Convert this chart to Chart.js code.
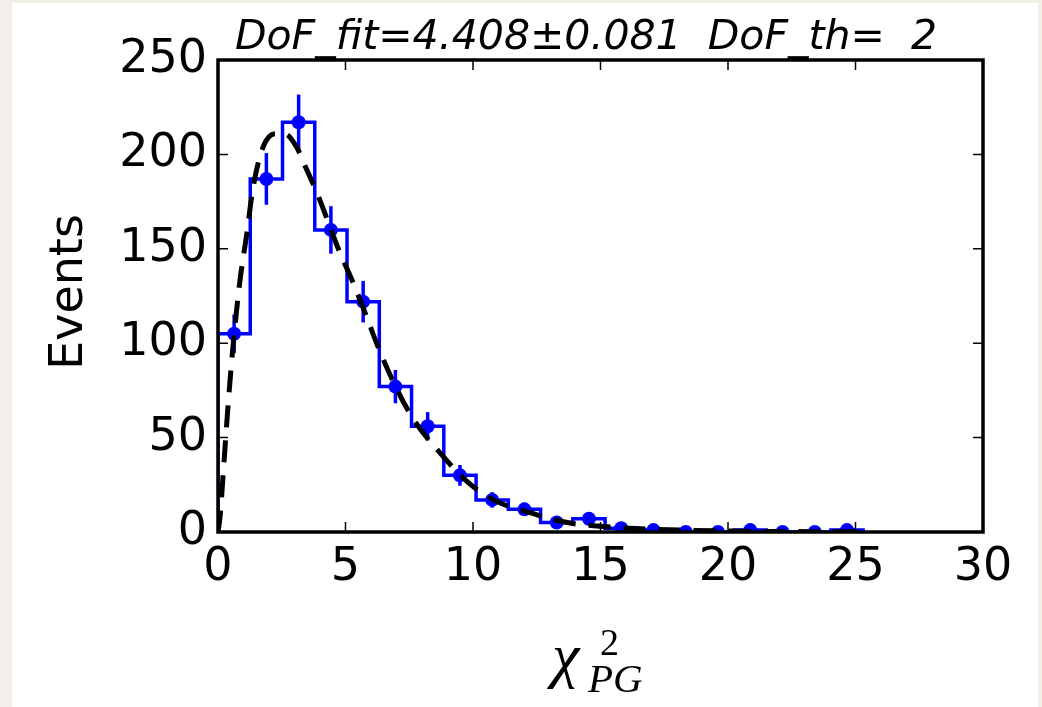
<!DOCTYPE html>
<html>
<head>
<meta charset="utf-8">
<script src="https://cdn.jsdelivr.net/npm/chart.js@4.4.1/dist/chart.umd.min.js"></script>
<style>
  html, body { margin: 0; padding: 0; }
  body { width: 1042px; height: 707px; background: #f2efe9; position: relative; overflow: hidden; }
  #paper { position: absolute; left: 12px; top: 3px; width: 1026px; height: 704px; background: #ffffff; }
  #chart { position: absolute; left: 0; top: 0; }
</style>
</head>
<body>
<div id="paper"></div>
<canvas id="chart" width="1042" height="707"></canvas>
<script>
// histogram of chi2, 20 bins
const binEdges = [0, 1.265, 2.53, 3.795, 5.06, 6.325, 7.59, 8.855, 10.12, 11.385, 12.65,
  13.915, 15.18, 16.445, 17.71, 18.975, 20.24, 21.505, 22.77, 24.035, 25.3];
const counts = [105, 187, 217, 160, 122, 77, 56, 30, 17, 12, 5, 7, 2, 1, 0, 0, 1, 0, 0, 1];
const errors = [10.2, 13.7, 14.7, 12.6, 11, 8.8, 7.5, 5.5, 4.1, 3.5, 2.2, 2.6, 1.4, 1, 0, 0, 1, 0, 0, 1];

// dashed fit curve
const fitX = [0, 0.08, 0.24, 0.4, 0.6, 0.86, 1.13, 1.37, 1.77, 2.24, 2.6, 3.08, 3.41, 3.87,
  4.78, 5.3, 5.83, 6.22, 6.86, 7.65, 8.7, 9.75, 10.8, 12.1, 13.7, 15, 17, 20, 25.3];
const fitY = [0, 8, 38, 68, 100, 133, 158, 182, 204, 211, 211, 204, 194, 180,
  148, 132, 114, 100, 80, 60, 42, 27, 17, 10.8, 5, 3, 1.5, 0.5, 0.1];

const xTicks = [0, 5, 10, 15, 20, 25, 30];
const yTicks = [0, 50, 100, 150, 200, 250];

const titleText = "DoF_fit=4.408\u00b10.081  DoF_th=  2";
const yTitle = "Events";

const blue = "#0000ff";

const stepPoints = [{ x: binEdges[0], y: 0 }];
counts.forEach((c, i) => stepPoints.push({ x: binEdges[i], y: c }));
stepPoints.push({ x: binEdges[binEdges.length - 1], y: counts[counts.length - 1] });
stepPoints.push({ x: binEdges[binEdges.length - 1], y: 0 });

const centers = counts.map((c, i) => (binEdges[i] + binEdges[i + 1]) / 2);
const markerPoints = counts.map((c, i) => ({ x: centers[i], y: c }));
const fitPoints = fitX.map((x, i) => ({ x, y: fitY[i] }));

const errorBars = {
  id: "errorBars",
  afterDatasetDraw(chart, args) {
    if (args.index !== 0) return;
    const { ctx, scales: { x, y } } = chart;
    ctx.save();
    ctx.beginPath();
    ctx.rect(chart.chartArea.left, chart.chartArea.top, chart.chartArea.width, chart.chartArea.height);
    ctx.clip();
    ctx.strokeStyle = blue;
    ctx.lineWidth = 3.5;
    counts.forEach((c, i) => {
      if (!errors[i]) return;
      const px = x.getPixelForValue(centers[i]);
      ctx.beginPath();
      ctx.moveTo(px, y.getPixelForValue(c - errors[i]));
      ctx.lineTo(px, y.getPixelForValue(c + errors[i]));
      ctx.stroke();
    });
    ctx.restore();
  },
};

const frame = {
  id: "frame",
  afterDatasetsDraw(chart) {
    const { ctx, chartArea: a, scales: { x, y } } = chart;
    ctx.save();
    ctx.strokeStyle = "#000";
    ctx.lineWidth = 1.5;
    xTicks.forEach((v) => {
      const px = x.getPixelForValue(v);
      ctx.beginPath();
      ctx.moveTo(px, a.bottom);
      ctx.lineTo(px, a.bottom - 10);
      ctx.moveTo(px, a.top);
      ctx.lineTo(px, a.top + 10);
      ctx.stroke();
    });
    yTicks.forEach((v) => {
      const py = y.getPixelForValue(v);
      ctx.beginPath();
      ctx.moveTo(a.left, py);
      ctx.lineTo(a.left + 10, py);
      ctx.moveTo(a.right, py);
      ctx.lineTo(a.right - 10, py);
      ctx.stroke();
    });
    ctx.lineWidth = 3.5;
    ctx.strokeRect(a.left, a.top, a.width, a.height);

    ctx.fillStyle = "#000";
    // title
    ctx.font = "oblique 41px 'DejaVu Sans'";
    ctx.textAlign = "center";
    ctx.textBaseline = "alphabetic";
    ctx.fillText(titleText, 586, 49);

    // y title
    ctx.save();
    ctx.translate(70, 292);
    ctx.rotate(-Math.PI / 2);
    ctx.font = "46px 'DejaVu Sans'";
    ctx.textBaseline = "middle";
    ctx.fillText(yTitle, 0, 0);
    ctx.restore();

    // x title: chi^2_PG
    ctx.textAlign = "left";
    ctx.font = "italic 62px 'Liberation Serif'";
    ctx.fillText("\u03c7", 552, 676);
    ctx.font = "38px 'Liberation Serif'";
    ctx.fillText("2", 600, 655);
    ctx.font = "italic 41px 'Liberation Serif'";
    ctx.fillText("PG", 588, 692);
    ctx.restore();
  },
};

const config = {
  type: "line",
  data: {
    datasets: [
      {
        label: "hist",
        data: stepPoints,
        stepped: true,
        borderColor: blue,
        borderWidth: 3.5,
        pointRadius: 0,
        fill: false,
        order: 3,
      },
      {
        label: "data",
        data: markerPoints,
        showLine: false,
        pointRadius: 7,
        pointBackgroundColor: blue,
        pointBorderColor: blue,
        pointBorderWidth: 0,
        order: 2,
      },
      {
        label: "fit",
        data: fitPoints,
        borderColor: "#000",
        borderWidth: 5,
        borderDash: [22, 13],
        pointRadius: 0,
        cubicInterpolationMode: "monotone",
        fill: false,
        order: 1,
      },
    ],
  },
  options: {
    responsive: false,
    animation: false,
    events: [],
    layout: {
      padding: { top: 60, right: 59, left: 0, bottom: 0 },
    },
    plugins: {
      legend: { display: false },
      title: { display: false },
      tooltip: { enabled: false },
    },
    scales: {
      x: {
        type: "linear",
        min: 0,
        max: 30,
        afterFit: (s) => { s.height = 175; },
        afterBuildTicks: (s) => { s.ticks = xTicks.map((v) => ({ value: v })); },
        grid: { display: false, drawTicks: false },
        border: { display: false },
        ticks: {
          color: "#000",
          padding: 8,
          maxRotation: 0,
          font: { family: "DejaVu Sans", size: 46 },
        },
      },
      y: {
        type: "linear",
        min: 0,
        max: 250,
        afterFit: (s) => { s.width = 218; },
        afterBuildTicks: (s) => { s.ticks = yTicks.map((v) => ({ value: v })); },
        grid: { display: false, drawTicks: false },
        border: { display: false },
        ticks: {
          color: "#000",
          padding: 11,
          font: { family: "DejaVu Sans", size: 46 },
        },
      },
    },
  },
  plugins: [errorBars, frame],
};

new Chart(document.getElementById("chart"), config);
</script>
</body>
</html>
